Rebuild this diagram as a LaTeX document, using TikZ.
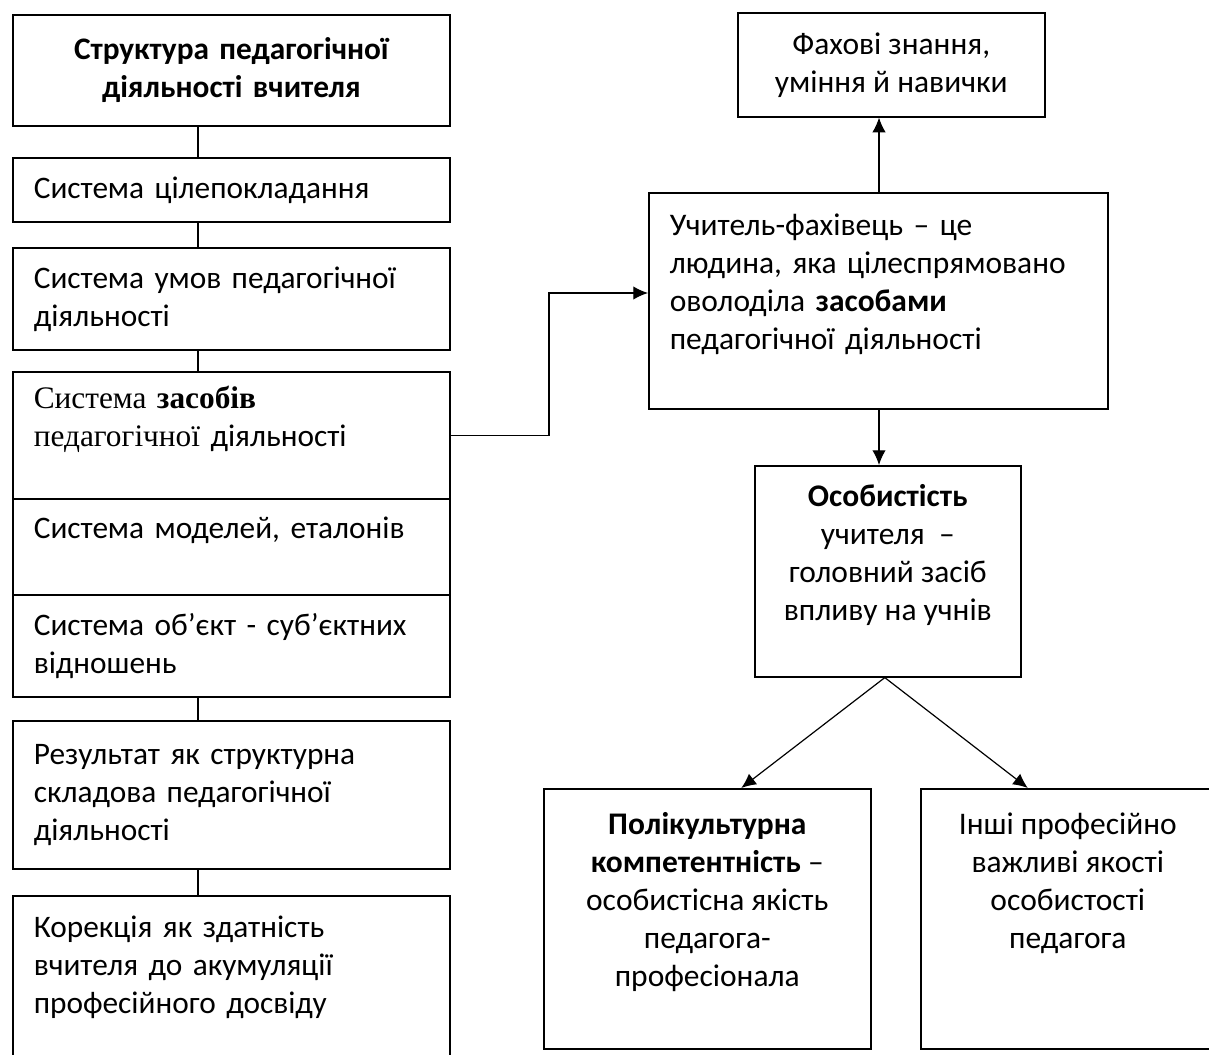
\documentclass[tikz,border=0pt]{standalone}
\usepackage{fontspec}
\setmainfont{Carlito}
\newfontfamily\timesfont{Liberation Serif}
\usetikzlibrary{arrows.meta}
\tikzset{stage/.style={draw, line width=1.2pt, anchor=north west, minimum width=327.75pt, text width=296.25pt, inner xsep=15.75pt, inner ysep=0pt, align=left, font=\fontsize{23.5}{28.5}\selectfont},
         side/.style={draw, line width=1.2pt, anchor=north west, inner ysep=0pt, align=center, font=\fontsize{23.6}{28.5}\selectfont},
         link/.style={line width=0.9pt},
         arrow/.style={line width=0.9pt, -{Latex[length=11pt,width=10pt]}}}
\begin{document}
\begin{tikzpicture}[x=0.75pt, y=-0.75pt]
   \useasboundingbox (0,0) rectangle (1209,1055);
   \clip (0,0) rectangle (1209,1055);
   % left column
   \node[stage, minimum height=83.25pt, align=center, font=\bfseries\fontsize{23.5}{28.5}\selectfont] (title) at (12,14) {Структура педагогічної\\ діяльності вчителя};
   \node[stage, minimum height=48pt]     (goal)   at (12,157) {Система цілепокладання};
   \node[stage, minimum height=76.5pt]   (cond)   at (12,247) {Система умов педагогічної\\ діяльності};
   \node[stage, minimum height=95.25pt]  (means)  at (12,371) {\timesfont Система \textbf{засобів}\\ педагогічної \rmfamily діяльності\\ \mbox{}};
   \node[stage, minimum height=72pt]     (model)  at (12,498) {Система моделей, еталонів\\ \mbox{}};
   \node[stage, minimum height=76.5pt]   (rel)    at (12,594) {Система об’єкт - суб’єктних\\ відношень};
   \node[stage, minimum height=111pt]    (result) at (12,720) {Результат як структурна\\ складова педагогічної\\ діяльності};
   \node[stage, minimum height=131.25pt] (corr)   at (12,895) {Корекція як здатність\\ вчителя до акумуляції\\ професійного досвіду\\ \mbox{}};
   \coordinate (spine) at (198,0);
   \foreach \a/\b in {title/goal, goal/cond, cond/means, rel/result, result/corr}
      \draw[link] (\a.south -| spine) -- (\b.north -| spine);
   % right part
   \node[side, minimum width=230.25pt, minimum height=78pt] (prof) at (737,12) {Фахові знання,\\ уміння й навички};
   \node[side, minimum width=344.25pt, minimum height=162pt, text width=312.75pt, inner xsep=15.75pt, align=left] (teacher) at (648,192)
        {Учитель-фахівець – це\\ людина, яка цілеспрямовано\\ оволоділа \textbf{засобами}\\ педагогічної діяльності\\ \mbox{}};
   \node[side, minimum width=199.5pt, minimum height=158.25pt] (pers) at (754,465)
        {\textbf{Особистість}\\ учителя~ –\\ головний засіб\\ впливу на учнів\\ \mbox{}};
   \node[side, minimum width=245.25pt, minimum height=195pt] (poly) at (543,788)
        {\textbf{Полікультурна}\\ \textbf{компетентність} –\\ особистісна якість\\ педагога-\\ професіонала\\ \mbox{}};
   \node[side, minimum width=220.5pt, minimum height=195pt] (other) at (920,788)
        {Інші професійно\\ важливі якості\\ особистості\\ педагога\\ \mbox{}\\ \mbox{}};
   \coordinate (axis) at (879,0);
   \draw[arrow] (teacher.north -| axis) -- (prof.south -| axis);
   \draw[arrow] (teacher.south -| axis) -- (pers.north -| axis);
   \coordinate (bend) at (549,293);
   \draw[arrow] (means.east) -| (bend) -- (bend -| teacher.west);
   \coordinate (fork) at ([shift={(-3,0)}]pers.south);
   \draw[arrow] (fork) -- ([shift={(34,0)}]poly.north);
   \draw[arrow] (fork) -- ([shift={(-40,0)}]other.north);
\end{tikzpicture}
\end{document}
